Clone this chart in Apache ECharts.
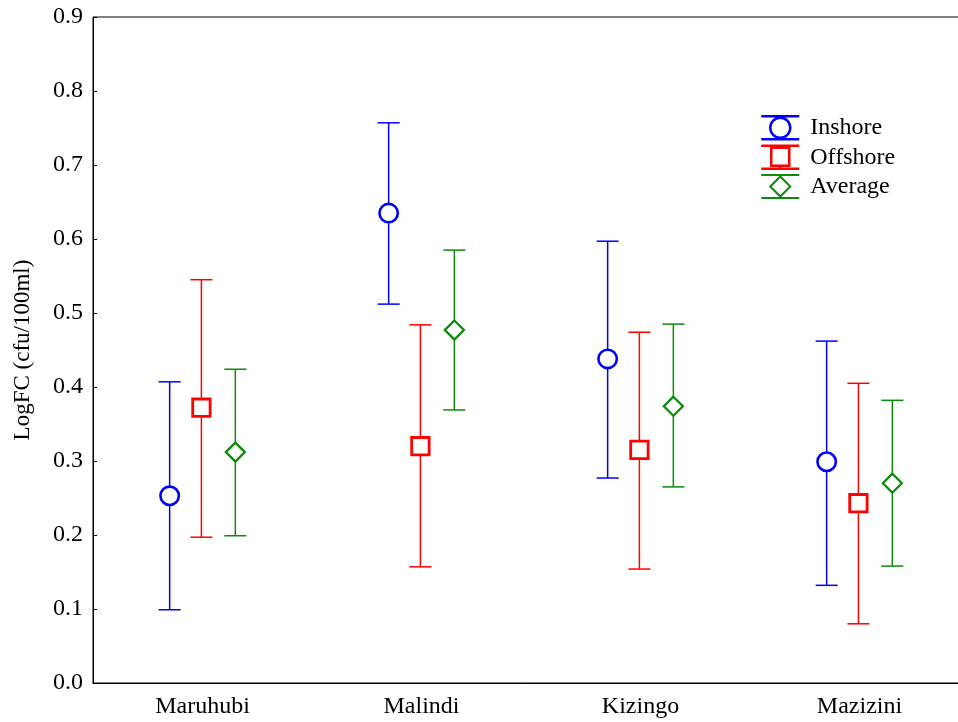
<!DOCTYPE html>
<html><head><meta charset="utf-8">
<script src="https://cdn.jsdelivr.net/npm/echarts@6/dist/echarts.min.js"></script>
<style>html,body{margin:0;padding:0;background:#fff}#c{width:958px;height:722px}</style>
</head><body><div id="c"></div>
<script>
const categories = ['Maruhubi', 'Malindi', 'Kizingo', 'Mazizini'];
const yTicks = [0, 0.1, 0.2, 0.3, 0.4, 0.5, 0.6, 0.7, 0.8, 0.9];
const inshoreMean  = [0.253, 0.635, 0.438, 0.299];
const inshoreLow   = [0.099, 0.512, 0.277, 0.132];
const inshoreHigh  = [0.407, 0.757, 0.597, 0.462];
const offshoreMean = [0.372, 0.320, 0.315, 0.243];
const offshoreLow  = [0.197, 0.157, 0.154, 0.080];
const offshoreHigh = [0.545, 0.484, 0.474, 0.405];
const averageMean  = [0.312, 0.477, 0.374, 0.270];
const averageLow   = [0.199, 0.369, 0.265, 0.158];
const averageHigh  = [0.424, 0.585, 0.485, 0.382];

const FONT = 'Liberation Serif';
const BLUE = '#0000ff', RED = '#ff0000', GREEN = '#0b8a0b';

function makeSeries(name, color, symbol, shift, mean, low, high) {
  const data = categories.map((c, i) => [i, mean[i], low[i], high[i]]);
  return {
    type: 'custom',
    name: name,
    itemStyle: { color: '#fff', borderColor: color, borderWidth: 2.5 },
    data: data,
    renderItem: function (params, api) {
      const i = api.value(0);
      const band = api.size([1, 0])[0];
      const dx = band * shift;
      const pm = api.coord([i, api.value(1)]);
      const pl = api.coord([i, api.value(2)]);
      const ph = api.coord([i, api.value(3)]);
      const x = pm[0] + dx;
      const cap = 11;
      const lineStyle = { stroke: color, lineWidth: 1.5, fill: null };
      const children = [
        { type: 'line', shape: { x1: x, y1: ph[1], x2: x, y2: pl[1] }, style: lineStyle },
        { type: 'line', shape: { x1: x - cap, y1: ph[1], x2: x + cap, y2: ph[1] }, style: lineStyle },
        { type: 'line', shape: { x1: x - cap, y1: pl[1], x2: x + cap, y2: pl[1] }, style: lineStyle }
      ];
      if (symbol === 'circle') {
        children.push({ type: 'circle', shape: { cx: x, cy: pm[1], r: 9.2 }, style: { fill: '#fff', stroke: color, lineWidth: 2.6 } });
      } else if (symbol === 'rect') {
        children.push({ type: 'rect', shape: { x: x - 8.7, y: pm[1] - 8.7, width: 17.4, height: 17.4 }, style: { fill: '#fff', stroke: color, lineWidth: 2.8 } });
      } else {
        children.push({ type: 'polygon', shape: { points: [[x, pm[1] - 9.5], [x + 9.5, pm[1]], [x, pm[1] + 9.5], [x - 9.5, pm[1]]] }, style: { fill: '#fff', stroke: color, lineWidth: 2.3 } });
      }
      return { type: 'group', children: children };
    }
  };
}

const iconCircle = 'path://M0,0L38,0M0,23L38,23M9,11.5A10,10,0,1,1,29,11.5A10,10,0,1,1,9,11.5Z';
const iconRect = 'path://M0,0L38,0M0,23L38,23M19,20L19,23M10,2L28,2L28,20L10,20Z';
const iconDiamond = 'path://M0,0L38,0M0,23L38,23M19,1.5L29,11.5L19,21.5L9,11.5Z';

const chart = echarts.init(document.getElementById('c'));
chart.setOption({
  animation: false,
  backgroundColor: '#fff',
  textStyle: { fontFamily: FONT, color: '#000' },
  grid: { left: 93, top: 17, width: 876, height: 666, outerBoundsMode: 'none', containLabel: false, show: true, borderColor: '#000', borderWidth: 1 },
  legend: {
    orient: 'vertical',
    left: 755, top: 110,
    itemWidth: 38, itemHeight: 23, itemGap: 4,
    textStyle: { fontFamily: FONT, fontSize: 24, lineHeight: 23, color: '#000', padding: [0, 0, 0, 6] },
    selectedMode: false,
    data: [
      { name: 'Inshore', icon: iconCircle, itemStyle: { color: '#fff', borderColor: BLUE, borderWidth: 2.5 } },
      { name: 'Offshore', icon: iconRect, itemStyle: { color: '#fff', borderColor: RED, borderWidth: 2.5 } },
      { name: 'Average', icon: iconDiamond, itemStyle: { color: '#fff', borderColor: GREEN, borderWidth: 2 } }
    ]
  },
  xAxis: {
    type: 'category',
    data: categories,
    axisLine: { lineStyle: { color: '#000', width: 1 } },
    axisTick: { inside: true, alignWithLabel: true, length: 4, lineStyle: { color: '#000' } },
    axisLabel: { fontFamily: FONT, fontSize: 24, color: '#000', margin: 12 },
    splitLine: { show: false }
  },
  yAxis: {
    type: 'value',
    min: yTicks[0], max: yTicks[yTicks.length - 1], interval: 0.1,
    name: 'LogFC (cfu/100ml)',
    nameLocation: 'middle', nameGap: 59, nameRotate: 90,
    nameTextStyle: { fontFamily: FONT, fontSize: 23, color: '#000' },
    axisLine: { show: true, lineStyle: { color: '#000', width: 1 } },
    axisTick: { show: true, inside: true, length: 4, lineStyle: { color: '#000' } },
    axisLabel: { fontFamily: FONT, fontSize: 24, color: '#000', margin: 10, formatter: v => v.toFixed(1) },
    splitLine: { show: false }
  },
  series: [
    makeSeries('Inshore', BLUE, 'circle', -0.15, inshoreMean, inshoreLow, inshoreHigh),
    makeSeries('Offshore', RED, 'rect', -0.005, offshoreMean, offshoreLow, offshoreHigh),
    makeSeries('Average', GREEN, 'diamond', 0.15, averageMean, averageLow, averageHigh)
  ]
});
</script>
</body></html>
